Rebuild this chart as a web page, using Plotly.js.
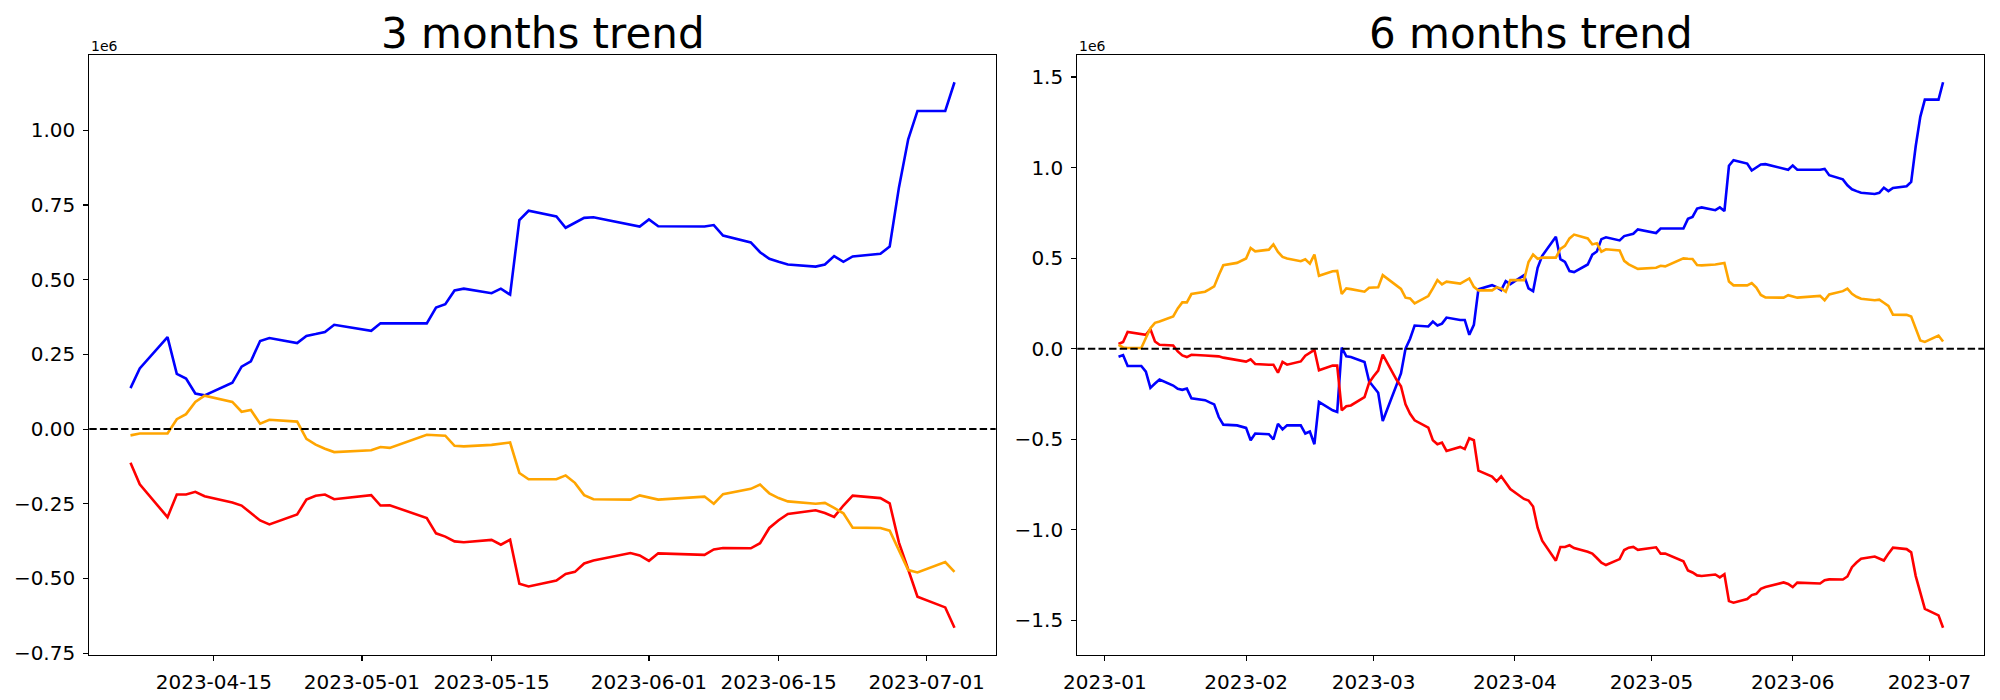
<!DOCTYPE html>
<html>
<head>
<meta charset="utf-8">
<script src="https://cdn.plot.ly/plotly-3.0.1.min.js"></script>
<style>
  html, body { margin: 0; padding: 0; background: #ffffff; }
  #chart { width: 2000px; height: 700px; }
</style>
</head>
<body>
<div id="chart"></div>
<script>
// ---------------- DATA (values in units of 1e6) ----------------
// 3 months window
const dates3m = [
  '2023-04-06','2023-04-07','2023-04-10','2023-04-11','2023-04-12','2023-04-13','2023-04-14','2023-04-17','2023-04-18','2023-04-19','2023-04-20','2023-04-21','2023-04-24','2023-04-25','2023-04-26','2023-04-27','2023-04-28',
  '2023-05-02','2023-05-03','2023-05-04','2023-05-08','2023-05-09','2023-05-10','2023-05-11','2023-05-12','2023-05-15','2023-05-16','2023-05-17','2023-05-18','2023-05-19','2023-05-22','2023-05-23','2023-05-24','2023-05-25','2023-05-26','2023-05-30','2023-05-31',
  '2023-06-01','2023-06-02','2023-06-07','2023-06-08','2023-06-09','2023-06-12','2023-06-13','2023-06-14','2023-06-15','2023-06-16','2023-06-19','2023-06-20','2023-06-21','2023-06-22','2023-06-23','2023-06-26','2023-06-27','2023-06-28','2023-06-29','2023-06-30',
  '2023-07-03','2023-07-04'
];
const blue3m = [
  0.137,0.203,0.308,0.185,0.169,0.119,0.113,0.155,0.209,0.227,0.295,0.305,0.288,0.312,0.318,0.325,0.349,
  0.329,0.354,0.354,0.354,0.407,0.418,0.464,0.470,0.455,0.470,0.450,0.700,0.731,0.712,0.674,0.690,0.707,0.709,0.684,0.678,
  0.702,0.679,0.678,0.683,0.648,0.625,0.592,0.570,0.560,0.551,0.544,0.551,0.579,0.560,0.578,0.587,0.611,0.809,0.970,1.065,
  1.065,1.161
];
const orange3m = [
  -0.021,-0.015,-0.015,0.033,0.050,0.091,0.112,0.091,0.058,0.064,0.018,0.031,0.025,-0.033,-0.052,-0.066,-0.077,
  -0.071,-0.060,-0.063,-0.019,-0.021,-0.022,-0.056,-0.058,-0.053,-0.049,-0.045,-0.147,-0.168,-0.168,-0.155,-0.180,-0.221,-0.235,-0.236,-0.222,
  -0.230,-0.236,-0.226,-0.250,-0.218,-0.200,-0.186,-0.215,-0.231,-0.242,-0.250,-0.247,-0.264,-0.282,-0.330,-0.331,-0.340,-0.405,-0.472,-0.480,
  -0.445,-0.478
];
const red3m = [
  -0.113,-0.185,-0.295,-0.219,-0.219,-0.210,-0.225,-0.246,-0.256,-0.280,-0.306,-0.319,-0.286,-0.236,-0.223,-0.219,-0.235,
  -0.221,-0.256,-0.255,-0.298,-0.349,-0.360,-0.376,-0.379,-0.371,-0.387,-0.370,-0.518,-0.527,-0.507,-0.485,-0.478,-0.450,-0.440,-0.415,-0.423,
  -0.441,-0.416,-0.421,-0.403,-0.398,-0.399,-0.382,-0.331,-0.305,-0.284,-0.272,-0.281,-0.294,-0.256,-0.223,-0.231,-0.249,-0.380,-0.470,-0.561,
  -0.597,-0.665
];

// 6 months window: first part (Jan 4 - Apr 5)
const dates6mEarly = [
  '2023-01-04','2023-01-05','2023-01-06','2023-01-09','2023-01-10','2023-01-11','2023-01-12','2023-01-13','2023-01-16','2023-01-17','2023-01-18','2023-01-19','2023-01-20','2023-01-23','2023-01-24','2023-01-25','2023-01-26','2023-01-27','2023-01-30','2023-01-31',
  '2023-02-01','2023-02-02','2023-02-03','2023-02-06','2023-02-07','2023-02-08','2023-02-09','2023-02-10','2023-02-13','2023-02-14','2023-02-15','2023-02-16','2023-02-17','2023-02-20','2023-02-21','2023-02-22','2023-02-23','2023-02-24','2023-02-27','2023-02-28',
  '2023-03-01','2023-03-02','2023-03-03','2023-03-06','2023-03-07','2023-03-08','2023-03-09','2023-03-10','2023-03-13','2023-03-14','2023-03-15','2023-03-16','2023-03-17','2023-03-20','2023-03-21','2023-03-22','2023-03-23','2023-03-24','2023-03-27','2023-03-28','2023-03-29','2023-03-30','2023-03-31',
  '2023-04-03','2023-04-04','2023-04-05'
];
const blue6mEarly = [
  -0.044,-0.035,-0.095,-0.095,-0.126,-0.216,-0.192,-0.170,-0.203,-0.221,-0.227,-0.220,-0.273,-0.284,-0.296,-0.307,-0.377,-0.419,-0.423,-0.428,
  -0.437,-0.505,-0.468,-0.472,-0.501,-0.414,-0.445,-0.423,-0.423,-0.468,-0.457,-0.527,-0.293,-0.340,-0.349,0.007,-0.042,-0.046,-0.073,-0.179,
  -0.212,-0.243,-0.399,-0.204,-0.136,0.000,0.055,0.128,0.123,0.150,0.128,0.139,0.172,0.159,0.159,0.077,0.132,0.329,0.351,0.340,0.324,0.373,0.357,
  0.406,0.333,0.318
];
const orange6mEarly = [
  0.022,0.007,0.004,0.004,0.059,0.113,0.143,0.150,0.178,0.223,0.256,0.256,0.302,0.315,0.329,0.344,0.406,0.461,0.474,0.485,
  0.498,0.556,0.538,0.547,0.576,0.534,0.507,0.498,0.483,0.494,0.470,0.520,0.403,0.428,0.430,0.302,0.333,0.329,0.315,0.337,
  0.337,0.339,0.406,0.346,0.330,0.282,0.278,0.251,0.291,0.333,0.379,0.355,0.370,0.360,0.373,0.388,0.342,0.322,0.322,0.339,0.333,0.315,0.379,
  0.379,0.479,0.520
];
const red6mEarly = [
  0.026,0.037,0.093,0.084,0.077,0.108,0.040,0.022,0.018,-0.015,-0.037,-0.046,-0.033,-0.037,-0.038,-0.042,-0.042,-0.049,-0.060,-0.066,
  -0.071,-0.059,-0.084,-0.088,-0.088,-0.132,-0.073,-0.088,-0.070,-0.038,-0.024,-0.006,-0.119,-0.093,-0.093,-0.340,-0.317,-0.313,-0.267,-0.188,
  -0.152,-0.121,-0.033,-0.170,-0.207,-0.307,-0.359,-0.395,-0.435,-0.505,-0.527,-0.518,-0.564,-0.542,-0.554,-0.494,-0.505,-0.673,-0.706,-0.732,-0.704,-0.737,-0.774,
  -0.829,-0.838,-0.871
];
// 6 months window: second part (Apr 6 - Jul 4), same dates as dates3m
const blue6mLate = [
  0.447,0.513,0.618,0.495,0.479,0.429,0.423,0.465,0.519,0.537,0.605,0.615,0.598,0.622,0.628,0.635,0.659,
  0.639,0.664,0.664,0.664,0.717,0.728,0.774,0.780,0.765,0.780,0.760,1.010,1.041,1.022,0.984,1.000,1.017,1.019,0.994,0.988,
  1.012,0.989,0.988,0.993,0.958,0.935,0.902,0.880,0.870,0.861,0.854,0.861,0.889,0.870,0.888,0.897,0.921,1.119,1.280,1.375,
  1.375,1.471
];
const orange6mLate = [
  0.497,0.503,0.503,0.551,0.568,0.609,0.630,0.609,0.576,0.582,0.536,0.549,0.543,0.485,0.466,0.452,0.441,
  0.447,0.458,0.455,0.499,0.497,0.496,0.462,0.460,0.465,0.469,0.473,0.371,0.350,0.350,0.363,0.338,0.297,0.283,0.282,0.296,
  0.288,0.282,0.292,0.268,0.300,0.318,0.332,0.303,0.287,0.276,0.268,0.271,0.254,0.236,0.188,0.187,0.178,0.113,0.046,0.038,
  0.073,0.040
];
const red6mLate = [
  -0.988,-1.060,-1.170,-1.094,-1.094,-1.085,-1.100,-1.121,-1.131,-1.155,-1.181,-1.194,-1.161,-1.111,-1.098,-1.094,-1.110,
  -1.096,-1.131,-1.130,-1.173,-1.224,-1.235,-1.251,-1.254,-1.246,-1.262,-1.245,-1.393,-1.402,-1.382,-1.360,-1.353,-1.325,-1.315,-1.290,-1.298,
  -1.316,-1.291,-1.296,-1.278,-1.273,-1.274,-1.257,-1.206,-1.180,-1.159,-1.147,-1.156,-1.169,-1.131,-1.098,-1.106,-1.124,-1.255,-1.345,-1.436,
  -1.472,-1.540
];

const titles = ['3 months trend', '6 months trend'];
const xTicks3m = ['2023-04-15','2023-05-01','2023-05-15','2023-06-01','2023-06-15','2023-07-01'];
const xTicks6m = ['2023-01-01','2023-02-01','2023-03-01','2023-04-01','2023-05-01','2023-06-01','2023-07-01'];
const yTicks3m = [-0.75,-0.5,-0.25,0,0.25,0.5,0.75,1.0];
const yTicks6m = [-1.5,-1.0,-0.5,0,0.5,1.0,1.5];
const offsetLabel = '1e6';

// ---------------- BUILD ----------------
const dates6m = dates6mEarly.concat(dates3m);
const blue6m = blue6mEarly.concat(blue6mLate);
const orange6m = orange6mEarly.concat(orange6mLate);
const red6m = red6mEarly.concat(red6mLate);

const W = 2000, H = 700;
const FONT = 'DejaVu Sans, Liberation Sans, sans-serif';
const BLUE = '#0000ff', ORANGE = '#ffa500', RED = '#ff0000';

function line(x, y, color, xa, ya) {
  return { x: x, y: y, type: 'scatter', mode: 'lines', xaxis: xa, yaxis: ya,
           line: { color: color, width: 2.6 }, hoverinfo: 'skip', showlegend: false };
}

const traces = [
  line(dates3m, blue3m, BLUE, 'x', 'y'),
  line(dates3m, red3m, RED, 'x', 'y'),
  line(dates3m, orange3m, ORANGE, 'x', 'y'),
  line(dates6m, blue6m, BLUE, 'x2', 'y2'),
  line(dates6m, red6m, RED, 'x2', 'y2'),
  line(dates6m, orange6m, ORANGE, 'x2', 'y2')
];

// pixel geometry of the two axes boxes
const ax1 = { l: 89.3, r: 995.7 };
const ax2 = { l: 1077.3, r: 1984.3 };
const axTop = 55, axBottom = 655;

const axisCommon = {
  showline: true, mirror: true, linecolor: '#000', linewidth: 1.1,
  ticks: 'outside', ticklen: 5, tickwidth: 1.1, tickcolor: '#000',
  showgrid: false, zeroline: false,
  tickfont: { family: FONT, size: 20, color: '#000' },
  ticklabelstandoff: 4
};

function padRange(minV, maxV) {
  const s = (maxV - minV) * 0.05;
  return [minV - s, maxV + s];
}

const layout = {
  width: W, height: H,
  margin: { l: 0, r: 0, t: 0, b: 0, pad: 0 },
  paper_bgcolor: '#fff', plot_bgcolor: '#fff',
  font: { family: FONT, color: '#000' },
  showlegend: false,
  xaxis: Object.assign({}, axisCommon, {
    type: 'date', domain: [ax1.l / W, ax1.r / W], anchor: 'y',
    range: ['2023-04-01 13:12', '2023-07-08 10:48'],
    tickmode: 'array', tickvals: xTicks3m, ticktext: xTicks3m
  }),
  yaxis: Object.assign({}, axisCommon, {
    domain: [1 - axBottom / H, 1 - axTop / H], anchor: 'x',
    range: padRange(Math.min(...red3m), Math.max(...blue3m)),
    tickmode: 'array', tickvals: yTicks3m, ticktext: yTicks3m.map(v => v.toFixed(2).replace('-', '\u2212'))
  }),
  xaxis2: Object.assign({}, axisCommon, {
    type: 'date', domain: [ax2.l / W, ax2.r / W], anchor: 'y2',
    range: ['2022-12-25 22:48', '2023-07-13 01:12'],
    tickmode: 'array', tickvals: xTicks6m, ticktext: xTicks6m.map(d => d.slice(0, 7))
  }),
  yaxis2: Object.assign({}, axisCommon, {
    domain: [1 - axBottom / H, 1 - axTop / H], anchor: 'x2',
    range: padRange(Math.min(...red6m), Math.max(...blue6m)),
    tickmode: 'array', tickvals: yTicks6m, ticktext: yTicks6m.map(v => v.toFixed(1).replace('-', '\u2212'))
  }),
  shapes: [
    { type: 'line', xref: 'x domain', yref: 'y', x0: 0, x1: 1, y0: 0, y1: 0,
      line: { color: '#000', width: 2, dash: '7.4px,3.2px' } },
    { type: 'line', xref: 'x2 domain', yref: 'y2', x0: 0, x1: 1, y0: 0, y1: 0,
      line: { color: '#000', width: 2, dash: '7.4px,3.2px' } }
  ],
  annotations: [
    { text: titles[0], xref: 'paper', yref: 'paper', x: (ax1.l + ax1.r) / 2 / W, y: 1 - 33 / H,
      xanchor: 'center', yanchor: 'middle', showarrow: false,
      font: { family: FONT, size: 42, color: '#000' } },
    { text: titles[1], xref: 'paper', yref: 'paper', x: (ax2.l + ax2.r) / 2 / W, y: 1 - 33 / H,
      xanchor: 'center', yanchor: 'middle', showarrow: false,
      font: { family: FONT, size: 42, color: '#000' } },
    { text: offsetLabel, xref: 'paper', yref: 'paper', x: ax1.l / W, y: 1 - 46 / H,
      xanchor: 'left', yanchor: 'middle', showarrow: false,
      font: { family: FONT, size: 14, color: '#000' } },
    { text: offsetLabel, xref: 'paper', yref: 'paper', x: ax2.l / W, y: 1 - 46 / H,
      xanchor: 'left', yanchor: 'middle', showarrow: false,
      font: { family: FONT, size: 14, color: '#000' } }
  ]
};

Plotly.newPlot('chart', traces, layout, { staticPlot: true, displayModeBar: false });
</script>
</body>
</html>
